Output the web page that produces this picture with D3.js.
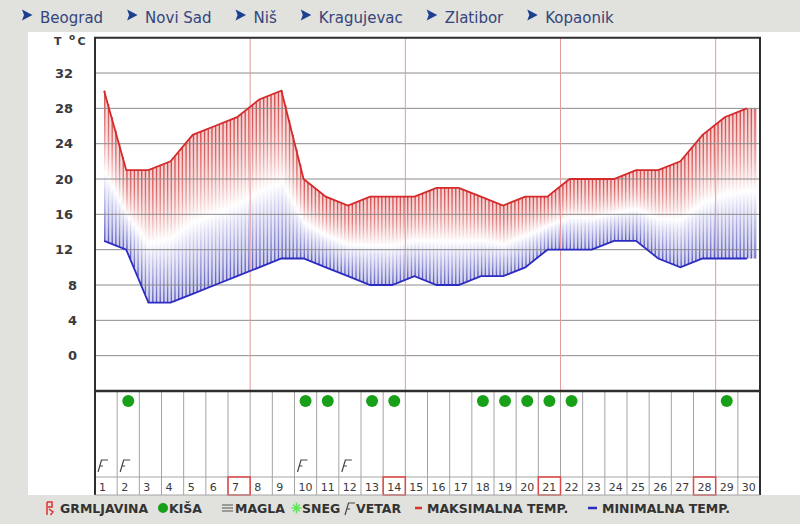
<!DOCTYPE html>
<html>
<head>
<meta charset="utf-8">
<script src="https://cdn.jsdelivr.net/npm/d3@7"></script>
<style>
  html, body { margin: 0; padding: 0; background: #e1e1dd; }
  svg { display: block; font-family: "DejaVu Sans", Verdana, sans-serif; }
</style>
</head>
<body>
<svg id="chart" width="800" height="524"></svg>
<script>
// data
const days = d3.range(1, 31)
const maxTemp = [30, 21, 21, 22, 25, 26, 27, 29, 30, 20, 18, 17, 18, 18, 18, 19, 19, 18, 17, 18, 18, 20, 20, 20, 21, 21, 22, 25, 27, 28]
const minTemp = [13, 12, 6, 6, 7, 8, 9, 10, 11, 11, 10, 9, 8, 8, 9, 8, 8, 9, 9, 10, 12, 12, 12, 13, 13, 11, 10, 11, 11, 11]
const yTicks = [0, 4, 8, 12, 16, 20, 24, 28, 32]
const rainDays = [2, 10, 11, 13, 14, 18, 19, 20, 21, 22, 29]
const windDays = [1, 2, 10, 12]
const weekEnds = [7, 14, 21, 28]
const cities = ['Beograd', 'Novi Sad', 'Niš', 'Kragujevac', 'Zlatibor', 'Kopaonik']
const legendItems = ['GRMLJAVINA', 'KIŠA', 'MAGLA', 'SNEG', 'VETAR', 'MAKSIMALNA TEMP.', 'MINIMALNA TEMP.']

const svg = d3.select('#chart')
const pLeft = 95, pRight = 760, pTop = 37.7, pMid = 391, dayTop = 477, pBottom = 495
const red = '#d42a2a', blue = '#2c2cc4'

let x = d3.scaleBand().domain(days).range([pLeft, pRight])
let bw = x.bandwidth()
let xp = d => x(d) + bw / 2 - 2
let y = d3.scaleLinear().domain([-4, 36]).range([pMid, pTop])

// white panel
svg.append('rect').attr('x', 28).attr('y', 32).attr('width', 772).attr('height', pBottom - 32).attr('fill', '#fff')

// nav bar
let nav = svg.append('g')
let nx = 22
cities.forEach(c => {
  nav.append('path')
    .attr('d', `M${nx},9.5 L${nx + 10.5},15 L${nx},20.5 L${nx + 2},15 Z`)
    .attr('fill', '#1d3f8f')
  let t = nav.append('text')
    .attr('x', nx + 18).attr('y', 22.5)
    .attr('font-size', 15).attr('fill', '#34457c')
    .text(c)
  nx = nx + 18 + t.node().getComputedTextLength() + 24
})

// gradients
let defs = svg.append('defs')
function grad(id, stops) {
  let g = defs.append('linearGradient').attr('id', id)
    .attr('x1', 0).attr('y1', 0).attr('x2', 0).attr('y2', 1)
  stops.forEach(s => g.append('stop').attr('offset', s[0]).attr('stop-color', s[1]))
}
grad('bgGrad', [[0, '#f5cfcf'], [0.25, '#f8dddd'], [0.45, '#fcf0f0'], [0.55, '#ffffff'], [0.65, '#f0f0fa'], [0.8, '#e2e2f4'], [1, '#d2d2ee']])
grad('stripeGrad', [[0, '#d24848'], [0.2, '#dc7474'], [0.35, '#e9a4a4'], [0.47, '#f6d8d8'], [0.55, '#ffffff'], [0.63, '#dedef4'], [0.75, '#b4b4e4'], [0.88, '#8888d0'], [1, '#5656bc']])

// hatched band between min and max
let xLin = d3.scaleLinear().domain([1, 30]).range([xp(1), xp(30)])
function interp(arr, px) {
  let t = Math.max(1, Math.min(30, xLin.invert(px)))
  let i = Math.min(28, Math.floor(t - 1))
  return arr[i] + (arr[i + 1] - arr[i]) * (t - 1 - i)
}
let step = bw / 6
let hatchEnd = 757
let sxs = d3.range(xp(1), hatchEnd, step)
let band = svg.append('g')
sxs.forEach(sx => {
  let sx2 = Math.min(sx + step, hatchEnd)
  let a0 = y(interp(maxTemp, sx)), a1 = y(interp(maxTemp, sx2))
  let b0 = y(interp(minTemp, sx)), b1 = y(interp(minTemp, sx2))
  band.append('path')
    .attr('d', `M${sx},${a0}L${sx2},${a1}L${sx2},${b1}L${sx},${b0}Z`)
    .attr('fill', 'url(#bgGrad)')
  band.append('rect')
    .attr('x', sx).attr('y', a0).attr('width', 1.4).attr('height', b0 - a0)
    .attr('fill', 'url(#stripeGrad)')
})

// grid
svg.append('g').selectAll('line').data(yTicks).join('line')
  .attr('x1', pLeft).attr('x2', pRight)
  .attr('y1', d => y(d)).attr('y2', d => y(d))
  .attr('stroke', '#8c8c8c').attr('stroke-width', 1)

// week separators in temp area
svg.append('g').selectAll('line').data(weekEnds).join('line')
  .attr('x1', d => x(d) + bw).attr('x2', d => x(d) + bw)
  .attr('y1', pTop).attr('y2', pMid)
  .attr('stroke', '#e49a9a').attr('stroke-width', 1)

// temperature lines
let line = arr => d3.line().x((d, i) => xp(days[i])).y(d => y(d))(arr)
svg.append('path').attr('d', line(maxTemp)).attr('fill', 'none').attr('stroke', red).attr('stroke-width', 1.8)
svg.append('path').attr('d', line(minTemp)).attr('fill', 'none').attr('stroke', blue).attr('stroke-width', 1.8)

// y labels
svg.append('g').selectAll('text').data(yTicks).join('text')
  .attr('x', d => d >= 10 ? 73 : 77)
  .attr('y', d => y(d))
  .attr('dy', '0.36em')
  .attr('text-anchor', 'end')
  .attr('font-size', 13).attr('font-weight', 'bold').attr('fill', '#3a3a3a')
  .text(d => d)
let unit = svg.append('text').attr('y', 45).attr('font-weight', 'bold').attr('fill', '#3a3a3a').attr('font-size', 11)
unit.append('tspan').attr('x', 54).text('T')
unit.append('tspan').attr('x', 69).attr('dy', -5).attr('font-size', 9).text('o')
unit.append('tspan').attr('x', 77.5).attr('dy', 5).text('C')

// weather area
let wx = svg.append('g')
wx.selectAll('line.sep').data(days.slice(1)).join('line')
  .attr('class', 'sep')
  .attr('x1', d => x(d)).attr('x2', d => x(d))
  .attr('y1', pMid).attr('y2', pBottom)
  .attr('stroke', '#a4a4a4')
wx.append('line').attr('x1', pLeft).attr('x2', pRight).attr('y1', dayTop).attr('y2', dayTop).attr('stroke', '#a4a4a4')
wx.selectAll('text').data(days).join('text')
  .attr('x', d => x(d) + 4).attr('y', 491)
  .attr('font-size', 11).attr('fill', '#3a3a3a')
  .text(d => d)
wx.selectAll('rect.week').data(weekEnds).join('rect')
  .attr('class', 'week')
  .attr('x', d => x(d)).attr('y', dayTop)
  .attr('width', bw).attr('height', pBottom - dayTop)
  .attr('fill', 'none').attr('stroke', '#e04848').attr('stroke-width', 1.5)
wx.selectAll('circle').data(rainDays).join('circle')
  .attr('cx', d => x(d) + bw / 2).attr('cy', 401).attr('r', 6)
  .attr('fill', '#18a018')
let windPath = (x0, y0) => `M${x0},${y0 + 12}L${x0 + 3.5},${y0}L${x0 + 10},${y0}M${x0 + 1.8},${y0 + 6}L${x0 + 5},${y0 + 6}`
wx.selectAll('path.wind').data(windDays).join('path')
  .attr('class', 'wind')
  .attr('d', d => windPath(x(d) + 3, 460))
  .attr('fill', 'none').attr('stroke', '#444').attr('stroke-width', 1.2)

// frame
let frame = svg.append('g').attr('stroke', '#2e2e2e').attr('fill', 'none')
frame.append('path').attr('d', `M${pLeft},${pBottom}V${pTop}H${pRight}V${pBottom}`).attr('stroke-width', 2)
frame.append('line').attr('x1', pLeft).attr('x2', pRight).attr('y1', pMid).attr('y2', pMid).attr('stroke-width', 2.5)
frame.append('line').attr('x1', pLeft).attr('x2', pRight).attr('y1', pBottom).attr('y2', pBottom).attr('stroke', '#a4a4a4').attr('stroke-width', 1)

// legend
let lg = svg.append('g')
let ly = 513
lg.append('path').attr('d', 'M47,502V515M47,502H52V507H48M49,509L53,512L50.5,515')
  .attr('fill', 'none').attr('stroke', '#e03030').attr('stroke-width', 1.5)
lg.append('circle').attr('cx', 163).attr('cy', 508).attr('r', 5).attr('fill', '#18a018')
lg.append('path').attr('d', 'M222,505H233M222,508H233M222,511H233').attr('stroke', '#555').attr('stroke-width', 1.2)
lg.append('path').attr('d', 'M296.5,502.5V513.5M291.5,508H301.5M293,504.5L300,511.5M300,504.5L293,511.5')
  .attr('stroke', '#5ee85e').attr('stroke-width', 1.5)
lg.append('path').attr('d', windPath(345, 503)).attr('fill', 'none').attr('stroke', '#444').attr('stroke-width', 1.2)
lg.append('line').attr('x1', 415).attr('x2', 422).attr('y1', 508).attr('y2', 508).attr('stroke', '#e03030').attr('stroke-width', 2.5)
lg.append('line').attr('x1', 588).attr('x2', 597).attr('y1', 508).attr('y2', 508).attr('stroke', blue).attr('stroke-width', 2.5)
let legendX = [60, 169, 235, 302, 356, 427, 602]
lg.selectAll('text').data(legendItems).join('text')
  .attr('x', (d, i) => legendX[i]).attr('y', ly)
  .attr('font-size', 12.5).attr('font-weight', 'bold').attr('fill', '#333')
  .text(d => d)
</script>
</body>
</html>
